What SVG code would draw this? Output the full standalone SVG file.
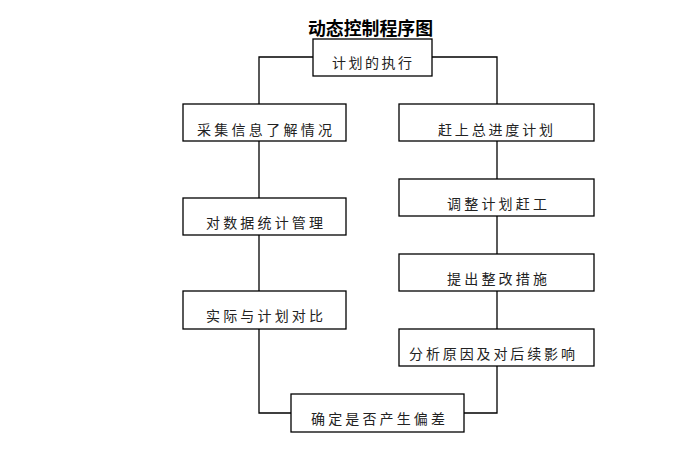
<svg xmlns="http://www.w3.org/2000/svg" width="695" height="450" viewBox="0 0 695 450">
<style>
.box{fill:#fff;stroke:#000;stroke-width:1.3}
.ln{fill:none;stroke:#000;stroke-width:1.3}
.t{font-family:"Noto Sans CJK SC","Noto Sans",sans-serif;font-size:14px;fill:#222;text-anchor:middle;dominant-baseline:central}
.title{font-family:"Noto Sans CJK SC","Noto Sans",sans-serif;font-size:18px;font-weight:bold;fill:#000;text-anchor:middle;dominant-baseline:central}
</style>
<rect width="695" height="450" fill="#fff"/>
<text class="title" x="370.5" y="27" textLength="125" lengthAdjust="spacingAndGlyphs">动态控制程序图</text>
<g id="connectors">
<polyline class="ln" points="313,57 259,57 259,104"/>
<polyline class="ln" points="432,57 497,57 497,104"/>
<line class="ln" x1="259" y1="141" x2="259" y2="198"/>
<line class="ln" x1="259" y1="235" x2="259" y2="291"/>
<polyline class="ln" points="259,329 259,413 291,413"/>
<line class="ln" x1="497" y1="141" x2="497" y2="179"/>
<line class="ln" x1="497" y1="216" x2="497" y2="254"/>
<line class="ln" x1="497" y1="291" x2="497" y2="329"/>
<polyline class="ln" points="464,413 497,413 497,366"/>
</g>
<g id="n1"><rect class="box" x="313" y="39" width="119" height="37"/><text class="t" x="372" y="62" textLength="80" lengthAdjust="spacing">计划的执行</text></g>
<g id="n2"><rect class="box" x="183" y="104" width="163" height="37"/><text class="t" x="264.5" y="128.5" textLength="135" lengthAdjust="spacing">采集信息了解情况</text></g>
<g id="n3"><rect class="box" x="183" y="198" width="163" height="37"/><text class="t" x="264.5" y="221.5" textLength="117" lengthAdjust="spacing">对数据统计管理</text></g>
<g id="n4"><rect class="box" x="183" y="291" width="163" height="38"/><text class="t" x="264.5" y="315" textLength="117" lengthAdjust="spacing">实际与计划对比</text></g>
<g id="n5"><rect class="box" x="291" y="394" width="173" height="38"/><text class="t" x="378" y="418" textLength="134" lengthAdjust="spacing">确定是否产生偏差</text></g>
<g id="n6"><rect class="box" x="399" y="104" width="195" height="37"/><text class="t" x="495.5" y="128.5" textLength="115" lengthAdjust="spacing">赶上总进度计划</text></g>
<g id="n7"><rect class="box" x="399" y="179" width="195" height="37"/><text class="t" x="497" y="203" textLength="100" lengthAdjust="spacing">调整计划赶工</text></g>
<g id="n8"><rect class="box" x="399" y="254" width="195" height="37"/><text class="t" x="497" y="278" textLength="100" lengthAdjust="spacing">提出整改措施</text></g>
<g id="n9"><rect class="box" x="399" y="329" width="195" height="37"/><text class="t" x="492" y="353" textLength="166" lengthAdjust="spacing">分析原因及对后续影响</text></g>
</svg>
